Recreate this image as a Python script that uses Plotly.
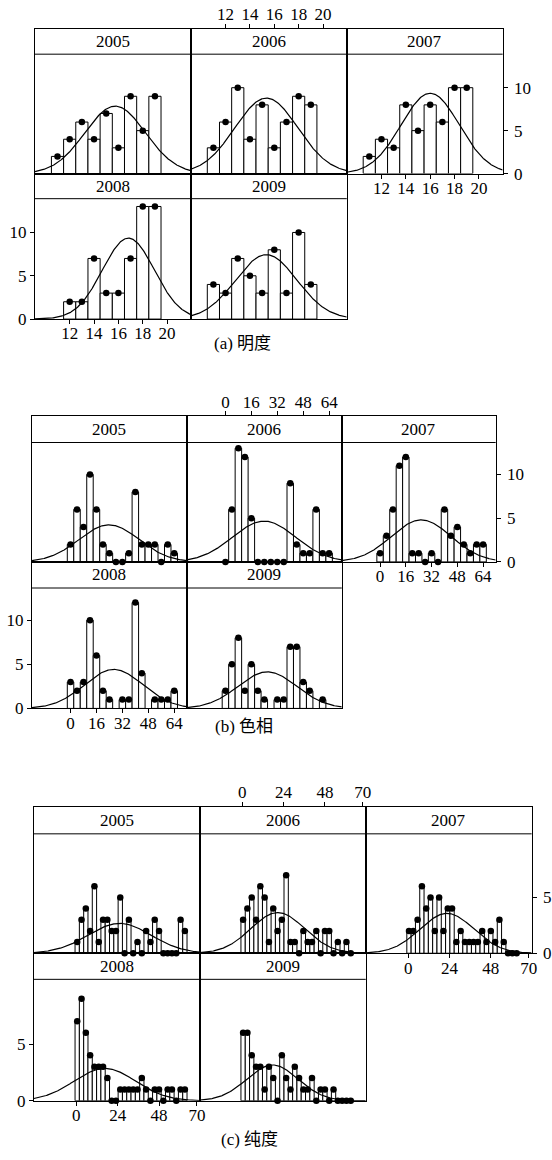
import numpy as np
import plotly.graph_objects as go

W, H = 552, 1160
# empirical correction for the slight shrink seen in the captured page
SX = SY = 1 / 0.988
YEARS = ["2005", "2006", "2007", "2008", "2009"]

# ---------------- (a) 明度 ----------------
brightness_levels = [11, 12, 13, 14, 15, 16, 17, 18, 19]
brightness_2005 = [2, 4, 6, 4, 7, 3, 9, 5, 9]
brightness_2006 = [3, 6, 10, 4, 8, 3, 6, 9, 8]
brightness_2007 = [2, 4, 3, 8, 5, 8, 6, 10, 10]
brightness_2008 = [None, 2, 2, 7, 3, 3, 7, 13, 13]
brightness_2009 = [4, 3, 7, 5, 3, 8, 3, 10, 4]
brightness_ticks = [12, 14, 16, 18, 20]

# ---------------- (b) 色相 ----------------
hue_levels = [0, 4, 8, 12, 16, 20, 24, 28, 32, 36, 40, 44, 48, 52, 56, 60, 64]
hue_2005 = [2, 6, 4, 10, 6, 2, 1, 0, 0, 1, 8, 2, 2, 2, 0, 2, 1]
hue_2006 = [0, 6, 13, 12, 5, 0, 0, 0, 0, 0, 9, 2, 1, 1, 6, 1, 1]
hue_2007 = [1, 3, 6, 11, 12, 1, 1, 0, 1, 0, 6, 3, 4, 2, 1, 2, 2]
hue_2008 = [3, 2, 3, 10, 6, 2, 1, None, 1, 1, 12, 4, None, 1, 1, 1, 2]
hue_2009 = [2, 5, 8, 2, 5, 2, 1, None, 1, 1, 7, 7, 3, 2, None, 1, None]
hue_ticks = [0, 16, 32, 48, 64]

# ---------------- (c) 纯度 ----------------
chroma_levels = [0.5, 3, 5.5, 8, 10.5, 13, 15.5, 18, 20.5, 23, 25.5, 28, 30.5,
                 33, 35.5, 38, 40.5, 43, 45.5, 48, 50.5, 53, 55.5, 58, 60.5, 63]
chroma_2005 = [1, 3, 4, 2, 6, 1, 3, 3, 2, 2, 5, 0, 3, 0, 1, 0, 2, 1, 3, 2, 0, 0, 0, 0, 3, 2]
chroma_2006 = [3, 4, 5, 3, 6, 5, 1, 4, 2, 3, 7, 1, 1, 0, 2, 1, 1, 2, 0, 2, 2, 0, 1, 0, 1, 0]
chroma_2007 = [2, 2, 3, 6, 4, 5, 2, 5, 2, 4, 4, 1, 2, 1, 1, 1, 1, 2, 1, 2, 1, 3, 1, 0, 0, 0]
chroma_2008 = [7, 9, 6, 4, 3, 3, 3, 2, 0, 0, 1, 1, 1, 1, 1, 2, 1, 0, 1, 1, 0, 1, 1, 0, 1, 1]
chroma_2009 = [6, 6, 4, 3, 3, 1, 3, 2, 0, 4, 2, 1, 3, 2, 1, 1, 2, 0, 1, 1, 0, 1, 0, 0, 0, 0]
chroma_ticks = [0, 24, 48, 70]

FONT = '"Liberation Serif", "Times New Roman", serif'
CAPFONT = '"Liberation Serif", "Noto Sans CJK SC", serif'
FS = 17


def px(x):
    return x * SX / W


def py(y):
    return 1 - y * SY / H


groups = [
    dict(caption="(a) 明度", levels=brightness_levels, bw=1.0,
         data=[brightness_2005, brightness_2006, brightness_2007, brightness_2008, brightness_2009],
         xrange=[9.15, 21.95], xticks=brightness_ticks, yticks=[0, 5, 10], ytop=13.9,
         cols=[35, 191, 347, 503], rows=[(29, 54, 173), (173, 198, 318)], cap=(243, 342)),
    dict(caption="(b) 色相", levels=hue_levels, bw=4.0,
         data=[hue_2005, hue_2006, hue_2007, hue_2008, hue_2009],
         xrange=[-23.8, 71.8], xticks=hue_ticks, yticks=[0, 5, 10], ytop=13.65,
         cols=[32, 187, 342, 496], rows=[(415, 441, 560), (560, 586, 706)], cap=(244, 724)),
    dict(caption="(c) 纯度", levels=chroma_levels, bw=2.5,
         data=[chroma_2005, chroma_2006, chroma_2007, chroma_2008, chroma_2009],
         xrange=[-24.6, 71.7], xticks=chroma_ticks, yticks=[0, 5], ytop=10.7,
         cols=[34, 200, 366, 532], rows=[(804, 831, 950), (950, 976, 1097)], cap=(250, 1136)),
]

positions = [(0, 0), (0, 1), (0, 2), (1, 0), (1, 1)]

fig = go.Figure()
layout = dict(width=W, height=H, margin=dict(l=0, r=0, t=0, b=0),
              paper_bgcolor="white", plot_bgcolor="white", showlegend=False,
              font=dict(family=FONT, size=FS, color="black"))
shapes, annotations = [], []

k = 0
for g in groups:
    for (r, c), year, vals in zip(positions, YEARS, g["data"]):
        k += 1
        xa = "x" if k == 1 else f"x{k}"
        ya = "y" if k == 1 else f"y{k}"
        xkey = "xaxis" if k == 1 else f"xaxis{k}"
        ykey = "yaxis" if k == 1 else f"yaxis{k}"
        x0, x1 = g["cols"][c], g["cols"][c + 1]
        st, sb, pb = g["rows"][r]
        ytop_ext = g["ytop"] * (pb - st) / (pb - sb)

        xs = [lv for lv, v in zip(g["levels"], vals) if v is not None]
        ys = [v for v in vals if v is not None]
        xs_a, ys_a = np.array(xs, float), np.array(ys, float)
        n = ys_a.sum()
        mu = (xs_a * ys_a).sum() / n
        sd = np.sqrt((ys_a * (xs_a - mu) ** 2).sum() / (n - 1))
        gx = np.linspace(g["xrange"][0], g["xrange"][1], 300)
        gy = n * g["bw"] * np.exp(-0.5 * ((gx - mu) / sd) ** 2) / (sd * np.sqrt(2 * np.pi))

        fig.add_trace(go.Bar(x=xs, y=ys, width=g["bw"], xaxis=xa, yaxis=ya,
                             marker=dict(color="white", line=dict(color="black", width=1))))
        fig.add_trace(go.Scatter(x=gx, y=gy, mode="lines", xaxis=xa, yaxis=ya,
                                 line=dict(color="black", width=1.2)))
        fig.add_trace(go.Scatter(x=xs, y=ys, mode="markers", xaxis=xa, yaxis=ya, cliponaxis=False,
                                 marker=dict(color="black", size=6.5)))

        xaxis = dict(domain=[px(x0), px(x1)], range=g["xrange"], anchor=ya,
                     showline=True, mirror=True, linecolor="black", linewidth=1,
                     showgrid=False, zeroline=False, tickvals=g["xticks"],
                     ticks="", showticklabels=False, ticklen=4, tickcolor="black",
                     ticklabeloverflow="allow",
                     tickfont=dict(family=FONT, size=FS, color="black"))
        if (r, c) == (0, 1):
            xaxis.update(side="top", ticks="outside", showticklabels=True, ticklabelstandoff=-3)
        elif (r, c) in [(0, 2), (1, 0)]:
            xaxis.update(side="bottom", ticks="outside", showticklabels=True, ticklabelstandoff=-5)
        yaxis = dict(domain=[py(pb), py(st)], range=[0, ytop_ext], anchor=xa,
                     showline=True, mirror=True, linecolor="black", linewidth=1,
                     showgrid=False, zeroline=False, tickvals=g["yticks"],
                     ticks="", showticklabels=False, ticklen=4, tickcolor="black",
                     ticklabeloverflow="allow",
                     tickfont=dict(family=FONT, size=FS, color="black"))
        if (r, c) == (0, 2):
            yaxis.update(side="right", ticks="outside", showticklabels=True, ticklabelstandoff=3)
        elif (r, c) == (1, 0):
            yaxis.update(side="left", ticks="outside", showticklabels=True)
        layout[xkey] = xaxis
        layout[ykey] = yaxis

        shapes.append(dict(type="line", xref="paper", yref="paper",
                           x0=px(x0), x1=px(x1), y0=py(sb), y1=py(sb),
                           line=dict(color="black", width=1)))
        annotations.append(dict(text=year, xref="paper", yref="paper",
                                x=px((x0 + x1) / 2), y=py((st + sb) / 2),
                                xanchor="center", yanchor="middle", showarrow=False,
                                font=dict(family=FONT, size=FS, color="black")))
    annotations.append(dict(text=g["caption"], xref="paper", yref="paper",
                            x=px(g["cap"][0]), y=py(g["cap"][1]),
                            xanchor="center", yanchor="middle", showarrow=False,
                            font=dict(family=CAPFONT, size=FS, color="black")))

layout["shapes"] = shapes
layout["annotations"] = annotations
fig.update_layout(**layout)
fig.write_html("out.html", config={"displayModeBar": False},
               post_script="document.body.style.margin='0';document.body.style.overflow='hidden';")
